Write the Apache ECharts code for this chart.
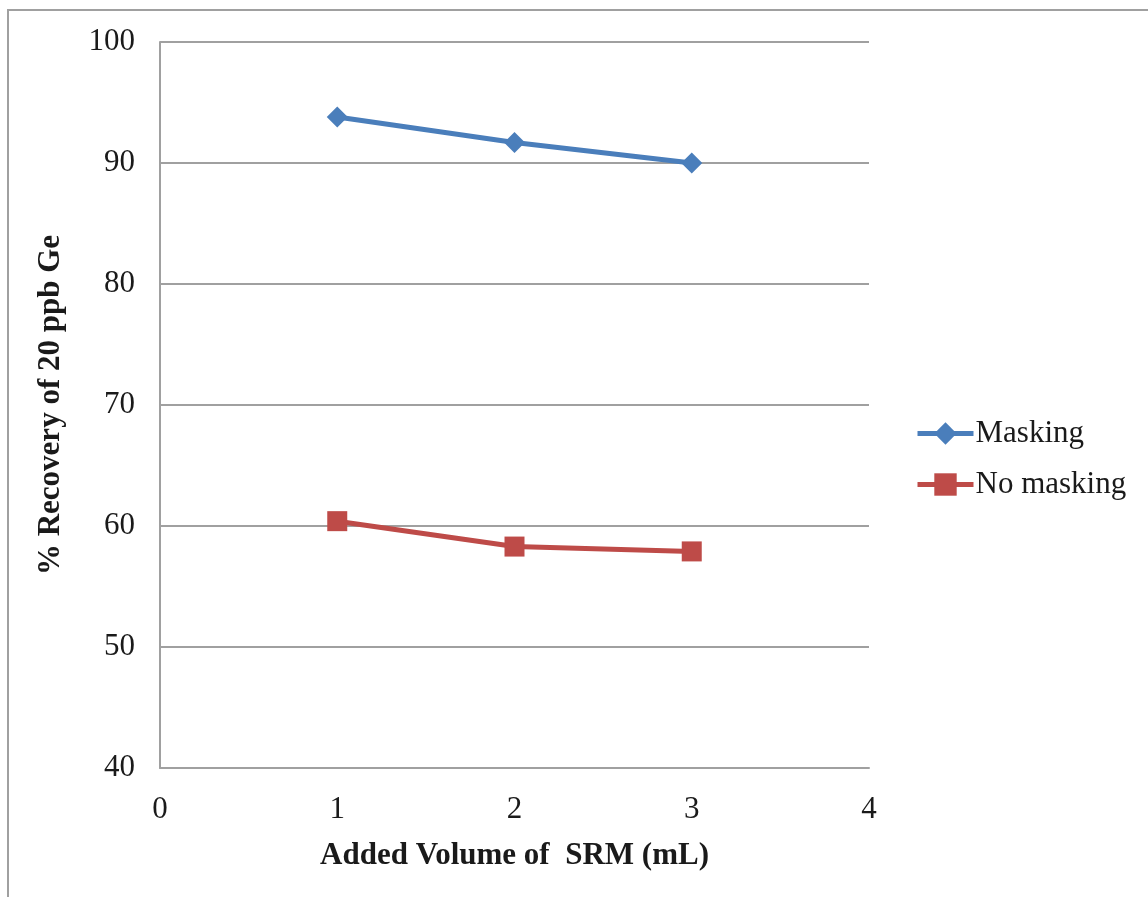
<!DOCTYPE html>
<html>
<head>
<meta charset="utf-8">
<style>
  html, body { margin: 0; padding: 0; background: #fff; }
  #chart { width: 1148px; height: 897px; }
</style>
<script src="https://cdn.jsdelivr.net/npm/echarts@6/dist/echarts.min.js"></script>
</head>
<body>
<div id="chart"></div>
<script>
// Added volume of SRM (mL)
const volumes = [1, 2, 3];
// % recovery of 20 ppb Ge
const masking = [93.8, 91.7, 90.0];
const noMasking = [60.4, 58.3, 57.9];
const seriesNames = ['Masking', 'No masking'];
const xTitle = 'Added Volume of  SRM (mL)';
const yTitle = '% Recovery of 20 ppb Ge';

const font = '"Liberation Serif", "Times New Roman", serif';
const chart = echarts.init(document.getElementById('chart'));

chart.setOption({
  animation: false,
  backgroundColor: '#fff',
  graphic: [{
    type: 'rect',
    shape: { x: 8, y: 10, width: 1200, height: 950 },
    style: { fill: 'none', stroke: '#a0a0a0', lineWidth: 2 },
    silent: true
  }],
  grid: { left: 160, top: 42, right: 279, bottom: 129, containLabel: false },
  legend: {
    orient: 'vertical',
    left: 910,
    top: 413,
    itemWidth: 56,
    itemHeight: 28,
    itemGap: 20,
    lineStyle: { width: 5 },
    textStyle: { fontFamily: font, fontSize: 31, color: '#1a1a1a', padding: [0, 0, 0, -3] },
    data: seriesNames
  },
  xAxis: {
    type: 'value',
    min: 0, max: 4, interval: 1,
    name: xTitle,
    nameLocation: 'middle',
    nameGap: 72,
    nameTextStyle: { fontFamily: font, fontSize: 31, fontWeight: 'bold', color: '#1a1a1a' },
    axisLine: { show: true, lineStyle: { color: '#a0a0a0', width: 2 } },
    axisTick: { show: false },
    axisLabel: { fontFamily: font, fontSize: 31, color: '#1a1a1a', margin: 26 },
    splitLine: { show: false }
  },
  yAxis: {
    type: 'value',
    min: 40, max: 100, interval: 10,
    name: yTitle,
    nameLocation: 'middle',
    nameGap: 94,
    nameTextStyle: { fontFamily: font, fontSize: 31, fontWeight: 'bold', color: '#1a1a1a' },
    axisLine: { show: true, lineStyle: { color: '#a0a0a0', width: 2 } },
    axisTick: { show: false },
    axisLabel: { fontFamily: font, fontSize: 31, color: '#1a1a1a', margin: 25 },
    splitLine: { show: true, lineStyle: { color: '#a0a0a0', width: 2 } }
  },
  series: [
    {
      name: seriesNames[0],
      type: 'line',
      data: volumes.map((v, i) => [v, masking[i]]),
      symbol: 'diamond',
      symbolSize: 21,
      lineStyle: { color: '#4a7ebb', width: 5 },
      itemStyle: { color: '#4a7ebb' }
    },
    {
      name: seriesNames[1],
      type: 'line',
      data: volumes.map((v, i) => [v, noMasking[i]]),
      symbol: 'rect',
      symbolSize: 20,
      lineStyle: { color: '#be4b48', width: 5 },
      itemStyle: { color: '#be4b48' }
    }
  ]
});
</script>
</body>
</html>
